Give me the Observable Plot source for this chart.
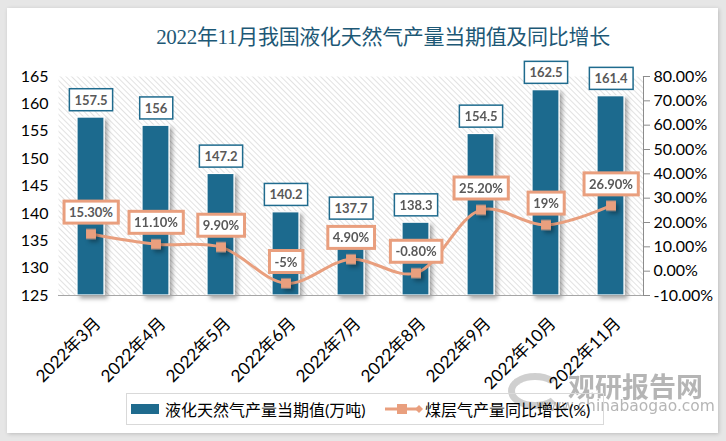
<!DOCTYPE html>
<html>
<head>
<meta charset="utf-8">
<script src="https://cdn.jsdelivr.net/npm/d3@7"></script>
<script src="https://cdn.jsdelivr.net/npm/@observablehq/plot@0.6"></script>
<style>
  html, body { margin: 0; padding: 0; }
  body { width: 726px; height: 441px; background: #e6e6e6; position: relative; overflow: hidden; font-family: Lato, "Noto Sans CJK SC", sans-serif; }
  #panel { position: absolute; left: 7px; top: 8px; width: 711px; height: 425px; background: #fff; box-shadow: 1px 1px 4px rgba(0,0,0,0.18); }
  #title { position: absolute; left: 0; width: 766px; top: 20px; text-align: center; font-family: "Liberation Serif", "Noto Sans CJK SC", serif; font-size: 21px; color: #1d5876; letter-spacing: -0.3px; }
  #chart { position: absolute; left: 0; top: 0; }
  #legend { position: absolute; left: 126px; top: 393px; width: 476px; height: 30px; border: 1px solid #d9d9d9; font-size: 16px; color: #000; font-family: Lato, "Noto Sans CJK SC", sans-serif; }
  .wm1 { position: absolute; left: 568px; top: 366px; font-size: 27px; font-weight: bold; color: #a9a9a9; font-family: "Noto Sans CJK SC", sans-serif; letter-spacing: 0px; opacity: .85; }
  .wm2 { position: absolute; left: 536px; top: 397px; font-size: 15.5px; color: #a9a9a9; font-family: "DejaVu Sans", sans-serif; opacity: .85; }
  .wmlogo { position: absolute; left: 508px; top: 373px; width: 54px; height: 36px; border-radius: 50%; border: 7px solid #c4c4c4; border-right-color: transparent; box-sizing: border-box; opacity: .8; }
</style>
</head>
<body>
<div id="panel"></div>
<div class="wmlogo"></div>
<div class="wm1">观研报告网</div>
<div class="wm2">www.chinabaogao.com</div>
<div id="title"></div>
<div id="chart"></div>
<div id="legend"></div>
<script>
const titleText = "2022年11月我国液化天然气产量当期值及同比增长";
const months = ["2022年3月","2022年4月","2022年5月","2022年6月","2022年7月","2022年8月","2022年9月","2022年10月","2022年11月"];
const lngOutput = [157.5, 156, 147.2, 140.2, 137.7, 138.3, 154.5, 162.5, 161.4];
const lngLabels = ["157.5","156","147.2","140.2","137.7","138.3","154.5","162.5","161.4"];
const growth = [15.3, 11.1, 9.9, -5, 4.9, -0.8, 25.2, 19, 26.9];
const growthLabels = ["15.30%","11.10%","9.90%","-5%","4.90%","-0.80%","25.20%","19%","26.90%"];
const leftTicks = [125,130,135,140,145,150,155,160,165];
const rightTicks = [-10,0,10,20,30,40,50,60,70,80];
const seriesNames = ["液化天然气产量当期值(万吨)", "煤层气产量同比增长(%)"];

const barColor = "#1f6b8e";
const lineColor = "#e99f7e";
const leftDomain = [125, 165];
const rightDomain = [-10, 80];
// map right-axis value onto left-axis scale
const toLeft = v => leftDomain[0] + (v - rightDomain[0]) * (leftDomain[1] - leftDomain[0]) / (rightDomain[1] - rightDomain[0]);
const fromLeft = y => rightDomain[0] + (y - leftDomain[0]) * (rightDomain[1] - rightDomain[0]) / (leftDomain[1] - leftDomain[0]);

const data = months.map((m, i) => ({
  month: m, value: lngOutput[i], label: lngLabels[i],
  growth: growth[i], gy: toLeft(growth[i]), glabel: growthLabels[i]
}));

document.getElementById("title").textContent = titleText;

const plot = Plot.plot({
  width: 726,
  height: 441,
  marginLeft: 58,
  marginRight: 83,
  marginTop: 76,
  marginBottom: 146,
  style: { background: "transparent", fontFamily: "Lato, 'Noto Sans CJK SC', sans-serif" },
  x: { domain: months, paddingInner: 0.58, paddingOuter: 0.29, label: null },
  y: { domain: leftDomain, label: null },
  marks: [
    Plot.frame({ fill: "#ffffff", stroke: "none" }),
    Plot.axisY(leftTicks, { anchor: "left", tickSize: 0, tickPadding: 10, fontSize: 16, fill: "#000", label: null }),
    Plot.axisY(rightTicks.map(toLeft), { anchor: "right", tickSize: 6, tickPadding: 4, stroke: "#8c8c8c", fontSize: 16, fill: "#000", label: null,
      tickFormat: y => fromLeft(y).toFixed(2) + "%" }),
    Plot.frame({ anchor: "right", stroke: "#8c8c8c" }),
    Plot.axisX({ tickSize: 0, tickRotate: -45, tickPadding: 25, dx: 7, fontSize: 17, fill: "#000", label: null }),
    Plot.barY(data, { x: "month", y1: leftDomain[0], y2: "value", fill: barColor, stroke: "#fff", strokeWidth: 1.2 }),
    Plot.ruleY([leftDomain[0]], { stroke: "#a6a6a6", strokeWidth: 1.2 }),
    Plot.line(data, { x: "month", y: "gy", stroke: lineColor, strokeWidth: 3, curve: "catmull-rom" }),
    Plot.dot(data, { x: "month", y: "gy", symbol: "square", r: 5.6, fill: lineColor, stroke: "none" }),
    Plot.text(data, { x: "month", y: "value", text: "label", dy: -17, fontSize: 13, fontWeight: "bold", fill: "#595959" }),
    Plot.text(data, { x: "month", y: "gy", text: "glabel", dy: -21, fontSize: 13, fontWeight: "bold", fill: "#595959" })
  ]
});
document.getElementById("chart").appendChild(plot);

// hatch pattern for plot background
const ns = "http://www.w3.org/2000/svg";
const defs = document.createElementNS(ns, "defs");
defs.innerHTML = `
  <pattern id="hatch" width="4" height="4" patternUnits="userSpaceOnUse" patternTransform="rotate(-45)">
    <rect width="4" height="4" fill="#ffffff"/>
    <line x1="0" y1="0" x2="0" y2="4" stroke="#d6d6d6" stroke-width="1.4"/>
  </pattern>
  <filter id="shadow" x="-30%" y="-30%" width="170%" height="170%">
    <feDropShadow dx="3" dy="3" stdDeviation="2" flood-color="#000" flood-opacity="0.35"/>
  </filter>`;
plot.insertBefore(defs, plot.firstChild);
const frames = plot.querySelectorAll('[aria-label="frame"]');
if (frames.length) {
  const f = frames[0];
  const r = f.tagName === "rect" ? f : f.querySelector("rect");
  if (r) r.setAttribute("fill", "url(#hatch)");
}
const bars = plot.querySelector('[aria-label="bar"]');
if (bars) bars.setAttribute("filter", "url(#shadow)");
const dots = plot.querySelector('[aria-label="dot"]');
if (dots) dots.setAttribute("filter", "url(#shadow)");

// boxes behind labels
const textGroups = plot.querySelectorAll('[aria-label="text"]');
const boxStyles = [
  { stroke: barColor, width: 1.5, padX: 5, padY: 3 },
  { stroke: lineColor, width: 3, padX: 5, padY: 3 }
];
textGroups.forEach((g, gi) => {
  const st = boxStyles[gi];
  g.querySelectorAll("text").forEach(t => {
    const b = t.getBBox();
    const ctm = t.getAttribute("transform");
    const rect = document.createElementNS(ns, "rect");
    rect.setAttribute("x", b.x - st.padX);
    rect.setAttribute("y", b.y - st.padY);
    rect.setAttribute("width", b.width + 2 * st.padX);
    rect.setAttribute("height", b.height + 2 * st.padY);
    rect.setAttribute("fill", "#fff");
    rect.setAttribute("stroke", st.stroke);
    rect.setAttribute("stroke-width", st.width);
    if (ctm) rect.setAttribute("transform", ctm);
    g.insertBefore(rect, t);
  });
});

// legend
const legend = document.getElementById("legend");
legend.innerHTML = `
  <div style="position:absolute;left:4px;top:10px;width:28px;height:10px;background:${barColor}"></div>
  <div style="position:absolute;left:38px;top:3px;white-space:nowrap">${seriesNames[0]}</div>
  <svg style="position:absolute;left:256px;top:5px" width="40" height="20">
    <line x1="2" y1="10" x2="36" y2="10" stroke="${lineColor}" stroke-width="3"/>
    <rect x="14" y="5" width="10" height="10" fill="${lineColor}"/>
    <path d="M32 10 L36 6 L40 10 L36 14 Z" fill="${lineColor}"/>
  </svg>
  <div style="position:absolute;left:298px;top:3px;white-space:nowrap">${seriesNames[1]}</div>`;
</script>
</body>
</html>
